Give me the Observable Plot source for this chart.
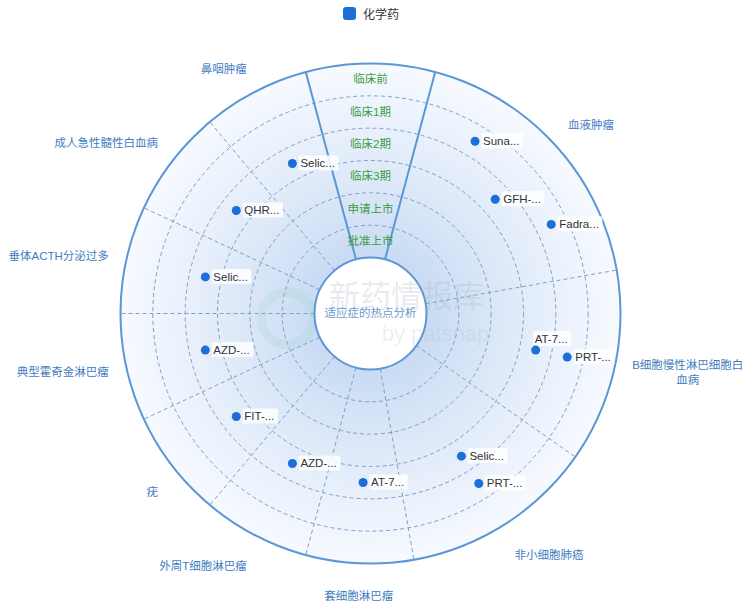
<!DOCTYPE html>
<html><head><meta charset="utf-8">
<script src="https://cdn.jsdelivr.net/npm/d3@7"></script>
<script src="https://cdn.jsdelivr.net/npm/@observablehq/plot@0.6"></script>
<style>
html,body{margin:0;padding:0;background:#fff;overflow:hidden}
body{font-family:"Liberation Sans","Noto Sans CJK SC",sans-serif}
#legend{width:742px;height:26px;display:flex;justify-content:center;align-items:center;font-size:12px;color:#333}
#legend .sw{width:13px;height:13px;border-radius:3px;background:#1b6fd6;margin-right:7px}
#chart svg{display:block}
</style></head><body>
<div id="legend"><span class="sw"></span><span id="legendText"></span></div>
<div id="chart"></div>
<script>
// ---- data ----
const seriesName = "化学药";
const centerTitle = "适应症的热点分析";
const stages = ["批准上市", "申请上市", "临床3期", "临床2期", "临床1期", "临床前"]; // inner -> outer
const indications = ["血液肿瘤", "B细胞慢性淋巴细胞白血病", "非小细胞肺癌", "套细胞淋巴瘤", "外周T细胞淋巴瘤", "疣", "典型霍奇金淋巴瘤", "垂体ACTH分泌过多", "成人急性髓性白血病", "鼻咽肿瘤"];
const drugNames = ["Suna...", "GFH-...", "Fadra...", "AT-7...", "PRT-...", "Selic...", "PRT-...", "AT-7...", "AZD-...", "FIT-...", "AZD-...", "Selic...", "QHR...", "Selic..."];
const drugIndication = ["血液肿瘤", "血液肿瘤", "血液肿瘤", "B细胞慢性淋巴细胞白血病", "B细胞慢性淋巴细胞白血病", "非小细胞肺癌", "非小细胞肺癌", "套细胞淋巴瘤", "外周T细胞淋巴瘤", "疣", "典型霍奇金淋巴瘤", "垂体ACTH分泌过多", "成人急性髓性白血病", "鼻咽肿瘤"];
const drugStage = ["临床1期", "临床2期", "临床1期", "临床2期", "临床1期", "临床2期", "临床1期", "临床2期", "临床2期", "临床2期", "临床2期", "临床2期", "临床2期", "临床2期"];

document.getElementById("legendText").textContent = seriesName;

// ---- layout ----
const W = 742, H = 580, cx = 370, cy = 287;
const R = 250, R0 = 56, band = (R - R0) / stages.length;
const wedge = 30; // degrees reserved at top for stage labels
const rad = d => d * Math.PI / 180;
const pol = (r, a) => [r * Math.sin(rad(a)), r * Math.cos(rad(a))];

const counts = indications.map(ind => drugIndication.filter(d => d === ind).length);
const unit = (360 - wedge) / (d3.sum(counts) + 0.25 * indications.length);
const sectors = [];
let a0 = wedge / 2;
indications.forEach((ind, i) => {
  const w = unit * (counts[i] + 0.25);
  sectors.push({ind, start: a0, end: a0 + w, mid: a0 + w / 2});
  a0 += w;
});

const canvas = document.createElement("canvas").getContext("2d");
const FONT = "11.5px 'Liberation Sans', 'Noto Sans CJK SC', sans-serif";
const measure = t => { canvas.font = FONT; return canvas.measureText(t).width; };

// points
const pts = drugNames.map((name, i) => {
  const sec = sectors[indications.indexOf(drugIndication[i])];
  const same = drugNames.map((_, j) => j).filter(j => drugIndication[j] === drugIndication[i] && drugStage[j] === drugStage[i]);
  const k = same.indexOf(i), m = same.length;
  const a = sec.start + (sec.end - sec.start) * (k + 0.5) / m;
  const r = R0 + band * (stages.indexOf(drugStage[i]) + 0.5);
  const [x, y] = pol(r, a);
  return {name, x, y};
});
pts.forEach(p => {
  const w = measure(p.name);
  let lx = p.x + 8, ly = p.y;
  const hit = pts.some(q => q !== p && q.x > lx - 4 && q.x < lx + w + 4 && Math.abs(q.y - ly) < 10);
  if (hit) { lx = p.x - 1; ly = p.y + 11; }
  Object.assign(p, {lx, ly, w});
});

// category labels
const LR = R + 18;
const catMarks = sectors.map(s => {
  let [x, y] = pol(LR, s.mid);
  const sn = Math.sin(rad(s.mid)), cs = Math.cos(rad(s.mid));
  let textAnchor = sn > 0.3 ? "start" : sn < -0.3 ? "end" : "middle";
  const lineAnchor = cs > 0.3 ? "bottom" : cs < -0.3 ? "top" : "middle";
  if (lineAnchor === "top") y -= 8;
  if (lineAnchor === "bottom") y += 3;
  let text = s.ind;
  if (textAnchor === "start" && cx + x + measure(text) > W) {
    const avail = W - (cx + x) + 6;
    const lines = []; let cur = "";
    for (const ch of text) { if (measure(cur + ch) > avail) { lines.push(cur); cur = ch; } else cur += ch; }
    lines.push(cur);
    const bw = d3.max(lines, measure);
    text = lines.join("\n");
    x = x + bw / 2;
    textAnchor = "middle";
  }
  return Plot.text([s], {x: () => x, y: () => y, text: () => text, textAnchor, lineAnchor, lineHeight: 1.35, fill: "#3f7cc0", fontSize: 11.5});
});

const ringRadii = d3.range(1, stages.length).map(i => R0 + band * i);
const bounds = sectors.map(s => s.start).concat([sectors[sectors.length - 1].end]);
const radial = bounds.map((a, i) => {
  const [x1, y1] = pol(R0, a), [x2, y2] = pol(R, a);
  return {x1, y1, x2, y2, solid: i === 0 || i === bounds.length - 1};
});

const defs = () => {
  const d = d3.create("svg:defs");
  const g = d.append("radialGradient").attr("id", "bgGrad");
  [[0, "#c2d7f1"], [0.22, "#c8dbf3"], [0.5, "#dbe7f8"], [0.78, "#ebf2fc"], [1, "#f7faff"]]
    .forEach(([o, c]) => g.append("stop").attr("offset", o).attr("stop-color", c));
  return d.node();
};

const center = [{}];
const chart = Plot.plot({
  width: W, height: H, margin: 0,
  x: {domain: [-cx, W - cx], range: [0, W], axis: null},
  y: {domain: [cy, cy - H], range: [0, H], axis: null},
  style: {fontFamily: "'Liberation Sans','Noto Sans CJK SC',sans-serif", background: "transparent"},
  marks: [
    defs,
    Plot.dot(center, {x: () => 0, y: () => 0, r: R, fill: "url(#bgGrad)", stroke: "none"}),
    ringRadii.map(rr => Plot.dot(center, {x: () => 0, y: () => 0, r: rr, fill: "none", stroke: "#7f9fc6", strokeWidth: 1, strokeDasharray: "4,3"})),
    Plot.link(radial.filter(d => !d.solid), {x1: "x1", y1: "y1", x2: "x2", y2: "y2", stroke: "#7f9fc6", strokeWidth: 1, strokeDasharray: "4,3"}),
    Plot.link(radial.filter(d => d.solid), {x1: "x1", y1: "y1", x2: "x2", y2: "y2", stroke: "#5b96d6", strokeWidth: 2}),
    Plot.dot(center, {x: () => 0, y: () => 0, r: R, fill: "none", stroke: "#5b96d6", strokeWidth: 2}),
    Plot.dot(center, {x: () => 0, y: () => 0, r: 26, dx: -83, dy: 5, fill: "none", stroke: "#8fd0bf", strokeOpacity: 0.18, strokeWidth: 9}),
    Plot.dot(center, {x: () => 0, y: () => 0, r: R0, fill: "white", stroke: "#5b96d6", strokeWidth: 2}),
    Plot.text(center, {x: () => 0, y: () => 0, text: () => "新药情报库", dx: 36, dy: -16, fontSize: 31, fill: "#aab6c4", fillOpacity: 0.28}),
    Plot.text(center, {x: () => 0, y: () => 0, text: () => "by patsnap", dx: 65, dy: 20, fontSize: 22, fill: "#aab6c4", fillOpacity: 0.22}),
    Plot.text(center, {x: () => 0, y: () => 0, text: () => centerTitle, fill: "#6a98cf", fontSize: 11.5}),
    Plot.text(stages, {x: () => 0, y: (d, i) => R0 + band * (i + 0.5), text: d => d, fill: "#3d9b45", fontSize: 11.5}),
    catMarks,
    Plot.rect(pts, {x1: d => d.lx - 1, x2: d => d.lx + d.w + 4, y1: d => d.ly - 7.5, y2: d => d.ly + 7.5, fill: "white", fillOpacity: 0.85}),
    Plot.dot(pts, {x: "x", y: "y", r: 4.5, fill: "#1b6fd6"}),
    Plot.text(pts, {x: "lx", y: "ly", text: "name", textAnchor: "start", fill: "#333", fontSize: 11.5})
  ]
});
document.getElementById("chart").appendChild(chart);
</script>
</body></html>
